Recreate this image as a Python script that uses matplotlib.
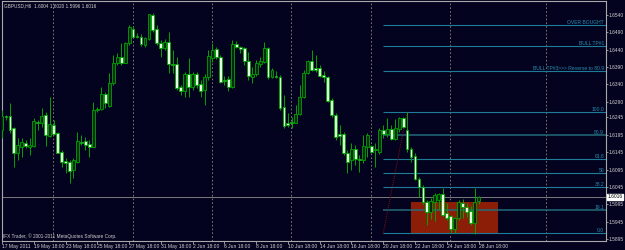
import matplotlib
matplotlib.use("Agg")
import matplotlib.pyplot as plt
import matplotlib.transforms as mtransforms
from matplotlib.patches import Rectangle

plt.rcParams["font.family"] = ["Liberation Sans", "DejaVu Sans"]

# --- GBPUSD H6 bars ---
opens = [
    1.6209, 1.6249, 1.6249, 1.6215, 1.6142, 1.6160, 1.6171, 1.6160, 1.6163, 1.6232,
    1.6229, 1.6252, 1.6192, 1.6223, 1.6200, 1.6145, 1.6119, 1.6116, 1.6094, 1.6116,
    1.6174, 1.6177, 1.6168, 1.6160, 1.6266, 1.6269, 1.6312, 1.6278, 1.6344, 1.6402,
    1.6419, 1.6402, 1.6459, 1.6500, 1.6480, 1.6477, 1.6454, 1.6471, 1.6540, 1.6500,
    1.6459, 1.6445, 1.6462, 1.6399, 1.6399, 1.6333, 1.6321, 1.6370, 1.6333, 1.6370,
    1.6341, 1.6324, 1.6361, 1.6416, 1.6442, 1.6419, 1.6353, 1.6356, 1.6333, 1.6456,
    1.6448, 1.6445, 1.6408, 1.6361, 1.6370, 1.6399, 1.6405, 1.6445, 1.6361, 1.6364,
    1.6361, 1.6275, 1.6229, 1.6232, 1.6229, 1.6255, 1.6304, 1.6373, 1.6408, 1.6387,
    1.6387, 1.6367, 1.6361, 1.6295, 1.6252, 1.6197, 1.6197, 1.6142, 1.6122, 1.6154,
    1.6125, 1.6122, 1.6160, 1.6163, 1.6151, 1.6145, 1.6209, 1.6197, 1.6212, 1.6183,
    1.6212, 1.6243, 1.6209, 1.6154, 1.6134, 1.6068, 1.6044, 1.6001, 1.5973, 1.6001,
    1.6007, 1.6024, 1.5970, 1.5961, 1.5924, 1.5956, 1.5999, 1.5987, 1.5976, 1.5941,
    1.6004,
]
highs = [
    1.6266, 1.6252, 1.6287, 1.6218, 1.6186, 1.6186, 1.6180, 1.6186, 1.6243, 1.6238,
    1.6272, 1.6261, 1.6304, 1.6238, 1.6203, 1.6151, 1.6128, 1.6122, 1.6128, 1.6203,
    1.6195, 1.6189, 1.6180, 1.6289, 1.6275, 1.6333, 1.6318, 1.6373, 1.6425, 1.6431,
    1.6459, 1.6462, 1.6511, 1.6508, 1.6488, 1.6485, 1.6477, 1.6543, 1.6546, 1.6511,
    1.6468, 1.6471, 1.6491, 1.6439, 1.6419, 1.6338, 1.6376, 1.6416, 1.6376, 1.6376,
    1.6353, 1.6370, 1.6439, 1.6459, 1.6448, 1.6425, 1.6364, 1.6364, 1.6468, 1.6465,
    1.6451, 1.6448, 1.6433, 1.6390, 1.6410, 1.6419, 1.6462, 1.6448, 1.6387, 1.6379,
    1.6367, 1.6310, 1.6258, 1.6246, 1.6281, 1.6338, 1.6382, 1.6410, 1.6439, 1.6425,
    1.6396, 1.6379, 1.6364, 1.6301, 1.6258, 1.6223, 1.6203, 1.6151, 1.6171, 1.6166,
    1.6137, 1.6195, 1.6200, 1.6166, 1.6171, 1.6215, 1.6223, 1.6243, 1.6223, 1.6240,
    1.6246, 1.6246, 1.6260, 1.6160, 1.6142, 1.6074, 1.6050, 1.6007, 1.6013, 1.6027,
    1.6027, 1.6042, 1.5999, 1.5964, 1.5959, 1.6007, 1.6010, 1.5999, 1.5990, 1.6042,
    1.6020,
]
lows = [
    1.6186, 1.6238, 1.6200, 1.6102, 1.6122, 1.6131, 1.6157, 1.6137, 1.6160, 1.6209,
    1.6218, 1.6163, 1.6189, 1.6195, 1.6142, 1.6102, 1.6085, 1.6056, 1.6071, 1.6114,
    1.6166, 1.6151, 1.6131, 1.6160, 1.6261, 1.6266, 1.6272, 1.6275, 1.6338, 1.6396,
    1.6396, 1.6402, 1.6454, 1.6474, 1.6474, 1.6451, 1.6448, 1.6468, 1.6491, 1.6454,
    1.6419, 1.6439, 1.6373, 1.6373, 1.6324, 1.6310, 1.6304, 1.6304, 1.6324, 1.6330,
    1.6304, 1.6281, 1.6353, 1.6405, 1.6413, 1.6344, 1.6338, 1.6321, 1.6330, 1.6445,
    1.6431, 1.6396, 1.6353, 1.6344, 1.6364, 1.6390, 1.6402, 1.6356, 1.6359, 1.6359,
    1.6266, 1.6215, 1.6218, 1.6215, 1.6229, 1.6252, 1.6301, 1.6370, 1.6379, 1.6376,
    1.6361, 1.6347, 1.6289, 1.6246, 1.6180, 1.6166, 1.6137, 1.6085, 1.6094, 1.6108,
    1.6088, 1.6114, 1.6131, 1.6142, 1.6102, 1.6140, 1.6186, 1.6189, 1.6180, 1.6180,
    1.6203, 1.6215, 1.6145, 1.6116, 1.6065, 1.6016, 1.5996, 1.5936, 1.5953, 1.5947,
    1.5979, 1.5961, 1.5950, 1.5911, 1.5912, 1.5950, 1.5956, 1.5959, 1.5936, 1.5908,
    1.5996,
]
closes = [
    1.6249, 1.6246, 1.6209, 1.6142, 1.6166, 1.6174, 1.6163, 1.6166, 1.6235, 1.6229,
    1.6249, 1.6195, 1.6226, 1.6197, 1.6142, 1.6116, 1.6114, 1.6091, 1.6122, 1.6177,
    1.6171, 1.6166, 1.6160, 1.6266, 1.6269, 1.6312, 1.6287, 1.6344, 1.6402, 1.6419,
    1.6402, 1.6459, 1.6505, 1.6477, 1.6477, 1.6456, 1.6474, 1.6543, 1.6497, 1.6459,
    1.6445, 1.6462, 1.6399, 1.6396, 1.6330, 1.6321, 1.6370, 1.6333, 1.6370, 1.6338,
    1.6321, 1.6361, 1.6422, 1.6439, 1.6419, 1.6347, 1.6350, 1.6333, 1.6456, 1.6448,
    1.6442, 1.6408, 1.6364, 1.6370, 1.6402, 1.6408, 1.6445, 1.6361, 1.6382, 1.6361,
    1.6272, 1.6220, 1.6223, 1.6229, 1.6255, 1.6304, 1.6373, 1.6408, 1.6382, 1.6382,
    1.6364, 1.6361, 1.6292, 1.6252, 1.6189, 1.6192, 1.6142, 1.6116, 1.6154, 1.6125,
    1.6122, 1.6163, 1.6195, 1.6145, 1.6154, 1.6209, 1.6197, 1.6212, 1.6183, 1.6215,
    1.6243, 1.6218, 1.6154, 1.6131, 1.6068, 1.6044, 1.6001, 1.5973, 1.6004, 1.6022,
    1.6024, 1.5964, 1.5956, 1.5924, 1.5956, 1.6001, 1.5987, 1.5973, 1.5941, 1.6001,
    1.6016,
]

tick_labels = [
    "17 May 2011", "19 May 18:00", "23 May 18:00", "25 May 18:00", "27 May 18:00",
    "31 May 18:00", "2 Jun 18:00", "6 Jun 18:00", "8 Jun 18:00", "10 Jun 18:00",
    "14 Jun 18:00", "16 Jun 18:00", "20 Jun 18:00", "22 Jun 18:00", "24 Jun 18:00",
    "28 Jun 18:00",
]
price_ticks = [1.6540, 1.6490, 1.6440, 1.6390, 1.6340, 1.6290, 1.6245, 1.6195,
               1.6145, 1.6095, 1.6045, 1.5995, 1.5945, 1.5895]
week_starts = [13, 33, 53, 73, 93, 113, 137]

bid = 1.6016
fib_low, fib_high = 1.5911, 1.6260
fib_levels = [0.0, 19.1, 38.2, 50.0, 61.8, 80.9, 100.0]
fib_labels = ["0.0", "19.1", "38.2", "50", "61.8", "80.9", "100.0"]
fib_start_bar, fib_end_bar = 96, 102
target_levels = [1.6511, 1.6451, 1.6379]
target_labels = ["OVER BOUGHT", "BULL TP#1", "BULL TP#3>>> Reverse to 80.9"]
box_bars = (103, 125)
box_prices = (1.5911, 1.6001)

BG = "#03031f"
GREEN = "#00a400"
AXIS = "#a8a8a8"
TEXT = "#d0d0d0"
TEAL = "#1f7c99"
FS = 3.6

fig = plt.figure(figsize=(6.25, 2.5), dpi=100, facecolor=BG)
ax = fig.add_axes([2 / 625, 9 / 250, 604 / 625, 240 / 250], facecolor=BG)
x_max = 152.1
ax.set_xlim(0, x_max)
ax.set_ylim(1.58892, 1.65803)

# weekly separators (dotted)
for b in week_starts:
    ax.axvline(b - 0.1, color="#8e8a76", lw=0.6, ls=(0, (2, 2.5)), zorder=1)

# red zone
ax.add_patch(Rectangle((box_bars[0], box_prices[0]), box_bars[1] - box_bars[0],
                       box_prices[1] - box_prices[0], facecolor="#8c1e08",
                       edgecolor="none", zorder=1))

# bid line
ax.axhline(bid, color="#8c8c8c", lw=0.6, zorder=1.5)

# fibo levels
rng = fib_high - fib_low
for lvl, lab in zip(fib_levels, fib_labels):
    p = fib_low + rng * lvl / 100
    dark = lab in ("80.9", "19.1")
    ax.hlines(p, fib_start_bar, x_max, color="#226a78" if dark else TEAL,
              lw=1.1 if dark else 0.8, zorder=1.6)
    ax.text(x_max - 0.5, p, lab, ha="right", va="bottom", fontsize=FS,
            color="#2a8db0", zorder=5)
ax.plot([fib_start_bar, fib_end_bar], [fib_low, fib_high], color="#8b1010",
        lw=0.7, ls=(0, (1, 1.2)), zorder=2)

for p, lab in zip(target_levels, target_labels):
    ax.hlines(p, fib_start_bar, x_max, color=TEAL, lw=0.8, zorder=1.6)
    ax.text(x_max - 0.5, p, lab, ha="right", va="bottom", fontsize=FS,
            color="#2a8db0", zorder=5)

# candles
n = len(opens)
bars = list(range(n))
ax.vlines(bars, lows, highs, color=GREEN, lw=0.7, zorder=3)
for i in bars:
    o, c = opens[i], closes[i]
    bottom = min(o, c)
    h = max(abs(c - o), 0.00004)
    face = "#062a10" if c >= o else "#e4ffe0"
    ax.bar(i, h, bottom=bottom, width=0.72, color=face, edgecolor=GREEN,
           linewidth=0.6, zorder=4)

# axes styling
for side in ["left", "right", "top", "bottom"]:
    ax.spines[side].set_color(AXIS)
    ax.spines[side].set_linewidth(0.8)
ax.yaxis.tick_right()
ax.set_yticks(price_ticks)
ax.set_yticklabels([f"{p:.4f}" for p in price_ticks])
ax.set_xticks(list(range(0, 121, 8)))
ax.set_xticklabels(tick_labels)
for lab in ax.get_xticklabels():
    lab.set_horizontalalignment("left")
ax.tick_params(axis="both", colors=AXIS, labelcolor=TEXT, labelsize=FS,
               length=2, width=0.6, pad=1)
ax.tick_params(axis="y", labelsize=3.5, length=1.5, pad=0.6)
ax.tick_params(axis="x", pad=0.5)

# current price marker
trans = mtransforms.blended_transform_factory(ax.transAxes, ax.transData)
ax.text(1.003, bid, "1.6016", transform=trans, fontsize=3.5, color="black",
        va="center", ha="left", clip_on=False, zorder=6,
        bbox=dict(facecolor="white", edgecolor="white", pad=0.4))

fig.text(4 / 625, 1 - 5.5 / 250, "GBPUSD,H6  1.6004 1.6020 1.5996 1.6016",
         fontsize=3.4, color=TEXT, va="center", ha="left")
fig.text(3 / 625, 1 - 236 / 250,
         "IFX Trader, \u00a9 2001-2011 MetaQuotes Software Corp.",
         fontsize=3.4, color=TEXT, va="center", ha="left")

fig.savefig("out.png", dpi=100, facecolor=BG)
